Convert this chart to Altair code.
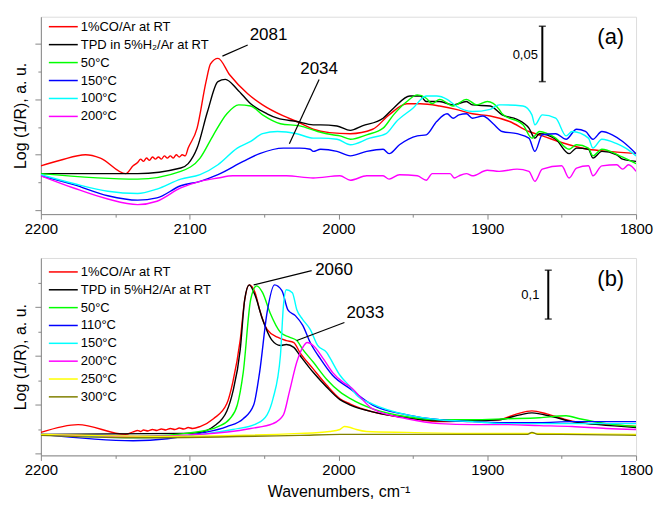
import altair as alt
import pandas as pd

FONT = "Liberation Sans"

# ---------------- Panel (a) ----------------
a_names = ["1%CO/Ar at RT", "TPD in 5%H\u2082/Ar at RT", "50\u00b0C", "150\u00b0C", "100\u00b0C", "200\u00b0C"]
a_colors = ["#ff0000", "#000000", "#00ff00", "#0000ff", "#00ffff", "#ff00ff"]

a_red_w = [2200, 2187, 2170, 2160, 2143, 2138, 2135, 2133, 2131, 2129, 2127, 2125, 2123, 2121, 2119,
           2117, 2115, 2113, 2111, 2109, 2107, 2105, 2103, 2101, 2095, 2089, 2086, 2081, 2073, 2061,
           2051, 2037, 2028, 2017, 2006, 1992, 1977, 1966, 1954, 1945, 1932, 1921, 1910, 1898, 1885,
           1872, 1863, 1845, 1832, 1818, 1800]
a_red_v = [0.040, 0.045, 0.050, 0.047, 0.033, 0.040, 0.043, 0.046, 0.044, 0.047, 0.045, 0.048, 0.046, 0.048, 0.046,
           0.049, 0.047, 0.049, 0.047, 0.050, 0.048, 0.050, 0.049, 0.056, 0.074, 0.116, 0.132, 0.137, 0.122, 0.105,
           0.095, 0.085, 0.080, 0.073, 0.070, 0.069, 0.073, 0.086, 0.096, 0.096, 0.094, 0.091, 0.087, 0.085, 0.080,
           0.071, 0.067, 0.059, 0.055, 0.053, 0.051]

a_blk_w = [2200, 2135, 2106, 2101, 2095, 2088, 2081, 2076, 2068, 2059, 2048, 2041, 2028, 2017, 2012,
           2001, 1992, 1984, 1970, 1963, 1952, 1945, 1941, 1932, 1923, 1914, 1910, 1898, 1890, 1880,
           1872, 1868, 1865, 1854, 1845, 1840, 1832, 1829, 1823, 1813, 1809, 1800]
a_blk_v = [0.033, 0.033, 0.038, 0.042, 0.056, 0.089, 0.116, 0.118, 0.109, 0.096, 0.087, 0.083, 0.080, 0.077, 0.077,
           0.076, 0.072, 0.076, 0.083, 0.092, 0.103, 0.103, 0.098, 0.098, 0.095, 0.098, 0.095, 0.094, 0.086, 0.082,
           0.074, 0.065, 0.069, 0.064, 0.051, 0.056, 0.055, 0.047, 0.053, 0.050, 0.046, 0.044]

a_grn_w = [2200, 2135, 2106, 2093, 2084, 2075, 2067, 2059, 2051, 2039, 2026, 2014, 2004, 1999, 1992,
           1981, 1970, 1963, 1954, 1947, 1941, 1937, 1932, 1923, 1914, 1907, 1900, 1892, 1890, 1876,
           1870, 1865, 1854, 1845, 1840, 1832, 1829, 1823, 1811, 1800]
a_grn_v = [0.033, 0.028, 0.035, 0.047, 0.068, 0.087, 0.095, 0.094, 0.086, 0.078, 0.076, 0.071, 0.068, 0.067, 0.064,
           0.068, 0.074, 0.086, 0.098, 0.104, 0.101, 0.096, 0.100, 0.094, 0.100, 0.095, 0.098, 0.091, 0.087, 0.077,
           0.065, 0.071, 0.065, 0.055, 0.059, 0.056, 0.049, 0.055, 0.049, 0.042]

a_blu_w = [2200, 2178, 2155, 2135, 2122, 2106, 2093, 2081, 2064, 2053, 2037, 2026, 2019, 2017, 2012,
           2001, 1992, 1981, 1970, 1966, 1959, 1947, 1941, 1934, 1927, 1923, 1919, 1914, 1910, 1903,
           1896, 1890, 1880, 1872, 1868, 1863, 1854, 1847, 1840, 1834, 1829, 1823, 1816, 1809, 1800]
a_blu_v = [0.031, 0.023, 0.013, 0.009, 0.011, 0.022, 0.026, 0.032, 0.044, 0.051, 0.056, 0.056, 0.055, 0.053, 0.055,
           0.053, 0.049, 0.053, 0.055, 0.051, 0.059, 0.067, 0.068, 0.080, 0.087, 0.083, 0.086, 0.087, 0.083, 0.085,
           0.078, 0.071, 0.069, 0.065, 0.053, 0.068, 0.069, 0.064, 0.073, 0.071, 0.064, 0.071, 0.068, 0.062, 0.051]

a_cyn_w = [2200, 2178, 2155, 2135, 2122, 2106, 2093, 2081, 2068, 2059, 2051, 2041, 2028, 2017, 2012,
           2001, 1992, 1979, 1968, 1961, 1950, 1941, 1934, 1927, 1921, 1910, 1898, 1892, 1890, 1876,
           1870, 1868, 1863, 1854, 1847, 1843, 1832, 1829, 1823, 1813, 1807, 1800]
a_cyn_v = [0.032, 0.024, 0.017, 0.015, 0.019, 0.028, 0.032, 0.041, 0.056, 0.062, 0.069, 0.071, 0.069, 0.065, 0.065,
           0.064, 0.059, 0.065, 0.069, 0.080, 0.092, 0.103, 0.103, 0.100, 0.094, 0.089, 0.091, 0.095, 0.095, 0.094,
           0.086, 0.077, 0.086, 0.083, 0.067, 0.071, 0.065, 0.056, 0.064, 0.060, 0.056, 0.049]

a_mag_w = [2200, 2178, 2155, 2135, 2122, 2106, 2093, 2081, 2071, 2035, 2017, 1999, 1992, 1981, 1970,
           1966, 1959, 1947, 1941, 1937, 1925, 1922, 1919, 1914, 1910, 1900, 1892, 1880, 1872, 1868,
           1863, 1850, 1845, 1840, 1832, 1829, 1823, 1813, 1809, 1805, 1800]
a_mag_v = [0.031, 0.020, 0.010, 0.005, 0.008, 0.020, 0.026, 0.029, 0.031, 0.031, 0.029, 0.031, 0.027, 0.031, 0.031,
           0.028, 0.032, 0.031, 0.027, 0.033, 0.033, 0.029, 0.031, 0.033, 0.031, 0.036, 0.035, 0.037, 0.035, 0.026,
           0.037, 0.040, 0.029, 0.038, 0.040, 0.031, 0.040, 0.041, 0.037, 0.041, 0.035]

a_series = [(a_red_w, a_red_v), (a_blk_w, a_blk_v), (a_grn_w, a_grn_v),
            (a_blu_w, a_blu_v), (a_cyn_w, a_cyn_v), (a_mag_w, a_mag_v)]

# ---------------- Panel (b) ----------------
b_names = ["1%CO/Ar at RT", "TPD in 5%H2/Ar at RT", "50\u00b0C", "110\u00b0C", "150\u00b0C",
           "200\u00b0C", "250\u00b0C", "300\u00b0C"]
b_colors = ["#ff0000", "#000000", "#00ff00", "#0000ff", "#00ffff", "#ff00ff", "#ffff00", "#808000"]

b_red_w = [2200, 2175, 2143, 2138, 2135, 2133, 2131, 2128, 2125, 2122, 2119, 2116, 2113, 2110, 2107,
           2104, 2101, 2098, 2093, 2084, 2075, 2071, 2066, 2063, 2060, 2056, 2053, 2048, 2041, 2035,
           2030, 2026, 2017, 2008, 1999, 1992, 1977, 1954, 1932, 1910, 1892, 1880, 1870, 1860, 1847,
           1832, 1816, 1800]
b_red_v = [0.043, 0.059, 0.039, 0.044, 0.047, 0.045, 0.048, 0.046, 0.049, 0.047, 0.050, 0.048, 0.051, 0.049, 0.052,
           0.050, 0.053, 0.051, 0.055, 0.071, 0.102, 0.146, 0.233, 0.315, 0.345, 0.329, 0.294, 0.254, 0.238, 0.231,
           0.227, 0.207, 0.173, 0.140, 0.112, 0.101, 0.085, 0.073, 0.065, 0.067, 0.069, 0.081, 0.087, 0.081, 0.069,
           0.061, 0.059, 0.055]

b_blk_w = [2200, 2104, 2093, 2084, 2075, 2071, 2066, 2063, 2060, 2056, 2051, 2045, 2039, 2035, 2030,
           2026, 2017, 2008, 1999, 1992, 1977, 1954, 1932, 1910, 1892, 1878, 1870, 1856, 1843, 1825, 1800]
b_blk_v = [0.039, 0.041, 0.043, 0.055, 0.087, 0.126, 0.213, 0.315, 0.345, 0.323, 0.274, 0.233, 0.221, 0.223, 0.217,
           0.201, 0.166, 0.136, 0.110, 0.099, 0.085, 0.073, 0.067, 0.067, 0.069, 0.079, 0.083, 0.075, 0.065, 0.059, 0.053]

b_grn_w = [2200, 2135, 2093, 2081, 2073, 2068, 2064, 2059, 2055, 2051, 2046, 2039, 2033, 2028, 2024,
           2017, 2008, 1999, 1992, 1977, 1954, 1932, 1910, 1887, 1865, 1847, 1838, 1820, 1800]
b_grn_v = [0.039, 0.035, 0.045, 0.055, 0.071, 0.099, 0.166, 0.315, 0.343, 0.329, 0.288, 0.248, 0.238, 0.231, 0.213,
           0.187, 0.152, 0.126, 0.112, 0.091, 0.075, 0.069, 0.069, 0.071, 0.073, 0.077, 0.071, 0.061, 0.055]

b_blu_w = [2200, 2138, 2115, 2093, 2075, 2064, 2057, 2053, 2048, 2043, 2038, 2034, 2029, 2024, 2019,
           2012, 2004, 1992, 1977, 1954, 1932, 1910, 1887, 1865, 1843, 1820, 1800]
b_blu_v = [0.039, 0.026, 0.030, 0.041, 0.055, 0.071, 0.099, 0.166, 0.288, 0.345, 0.333, 0.294, 0.282, 0.262, 0.227,
           0.193, 0.160, 0.132, 0.099, 0.079, 0.069, 0.065, 0.063, 0.063, 0.065, 0.065, 0.065]

b_cyn_w = [2200, 2135, 2093, 2071, 2055, 2048, 2044, 2039, 2037, 2035, 2031, 2028, 2024, 2019, 2014,
           2008, 2006, 1999, 1992, 1988, 1977, 1954, 1932, 1910, 1887, 1865, 1820, 1800]
b_cyn_v = [0.039, 0.032, 0.039, 0.049, 0.061, 0.079, 0.112, 0.201, 0.302, 0.335, 0.329, 0.294, 0.274, 0.254, 0.221,
           0.207, 0.197, 0.160, 0.136, 0.120, 0.101, 0.079, 0.069, 0.065, 0.061, 0.061, 0.061, 0.061]

b_mag_w = [2200, 2135, 2093, 2059, 2044, 2037, 2033, 2028, 2024, 2021, 2017, 2010, 2004, 1997, 1992,
           1977, 1954, 1932, 1910, 1887, 1865, 1843, 1820, 1800]
b_mag_v = [0.039, 0.035, 0.039, 0.051, 0.061, 0.079, 0.126, 0.187, 0.217, 0.227, 0.221, 0.193, 0.166, 0.146, 0.136,
           0.091, 0.071, 0.061, 0.059, 0.059, 0.057, 0.055, 0.051, 0.049]

b_yel_w = [2200, 2115, 2026, 2006, 1999, 1996, 1992, 1988, 1981, 1954, 1910, 1870, 1800]
b_yel_v = [0.039, 0.035, 0.041, 0.045, 0.049, 0.055, 0.053, 0.049, 0.045, 0.043, 0.041, 0.041, 0.039]

b_olv_w = [2200, 2138, 2026, 1999, 1954, 1873, 1870, 1866, 1850, 1800]
b_olv_v = [0.037, 0.032, 0.037, 0.039, 0.039, 0.039, 0.043, 0.039, 0.039, 0.037]

b_series = [(b_red_w, b_red_v), (b_blk_w, b_blk_v), (b_grn_w, b_grn_v), (b_blu_w, b_blu_v),
            (b_cyn_w, b_cyn_v), (b_mag_w, b_mag_v), (b_yel_w, b_yel_v), (b_olv_w, b_olv_v)]

# annotations: peak labels, leader lines, panel letters, scale bars
a_peak_text = ["2081", "2034"]
a_peak_tw = [2047, 2013]
a_peak_tv = [0.158, 0.127]
a_lead_w1 = [2078, 2033]
a_lead_v1 = [0.139, 0.060]
a_lead_w2 = [2061, 2013]
a_lead_v2 = [0.149, 0.118]

b_peak_text = ["2060", "2033"]
b_peak_tw = [2003, 1982]
b_peak_tv = [0.376, 0.288]
b_lead_w1 = [2057, 2028]
b_lead_v1 = [0.345, 0.231]
b_lead_w2 = [2018, 1996]
b_lead_v2 = [0.374, 0.268]

a_letter = ("(a)", 1817, 0.156)
b_letter = ("(b)", 1817, 0.357)

a_bar = (1863, 0.116, 0.166, "0,05", 1866, 0.140)
b_bar = (1859, 0.275, 0.375, "0,1", 1865, 0.325)

x_ticks = [2200, 2150, 2100, 2050, 2000, 1950, 1900, 1850, 1800]
a_yticks = [0.0, 0.025, 0.05, 0.075, 0.10, 0.125, 0.15]
b_yticks = [0.0, 0.05, 0.10, 0.15, 0.20, 0.25, 0.30, 0.35]

A_YDOM = [-0.0036, 0.1746]
B_YDOM = [-0.004, 0.400]
X_DOM = [1800, 2200]

W, H = 597, 198

# legend layout (pixels inside the plot area)
LEG_SYM_X0, LEG_SYM_X1, LEG_TXT_X = 8, 37, 40
A_LEG_TOP, A_LEG_STEP = 10, 18
B_LEG_TOP, B_LEG_STEP = 14, 17.9


def px_to_w(px):
    return X_DOM[1] - px * (X_DOM[1] - X_DOM[0]) / W


def py_to_v(py, ydom):
    return ydom[1] - py * (ydom[1] - ydom[0]) / H


def panel(series, names, colors, ydomain, yticks, major_mult, ptext, ptw, ptv,
          lw1, lv1, lw2, lv2, letter, bar, show_xtitle, legend_name, leg_top, leg_step):
    frames = []
    for i, ((ws, vs), nm) in enumerate(zip(series, names)):
        assert len(ws) == len(vs), nm
        frames.append(pd.DataFrame({"w": ws, "v": vs, legend_name: nm, "k": i}))
    df = pd.concat(frames, ignore_index=True)

    xaxis = alt.Axis(values=x_ticks, format="d", labelFlush=False, labelOverlap=False,
                     labelExpr="datum.value % 100 === 0 ? datum.label : ''",
                     tickSize={"condition": {"test": "datum.value % 100 === 0", "value": 5}, "value": 3},
                     labelFontSize=15, labelPadding=2, grid=False,
                     title="Wavenumbers, cm\u207b\u00b9" if show_xtitle else None,
                     titleFontSize=16, titleFontWeight="normal", titlePadding=6)
    test = f"abs(datum.value*{major_mult} - round(datum.value*{major_mult})) < 0.001"
    yaxis = alt.Axis(values=yticks, labels=False, grid=False,
                     tickSize={"condition": {"test": test, "value": 6}, "value": 3},
                     title="Log (1/R), a. u.", titleFontSize=16, titleFontWeight="normal",
                     titlePadding=6)
    xsc = alt.Scale(domain=X_DOM, reverse=True, nice=False, zero=False)
    ysc = alt.Scale(domain=ydomain, nice=False, zero=False)
    xenc = alt.X("w:Q", scale=xsc, axis=xaxis)
    yenc = alt.Y("v:Q", scale=ysc, axis=yaxis)
    cenc = alt.Color(f"{legend_name}:N", scale=alt.Scale(domain=names, range=colors), legend=None)

    lines = alt.Chart(df).mark_line(strokeWidth=1.4, clip=True, interpolate="monotone").encode(
        x=xenc, y=yenc, color=cenc, order="k:Q",
    )

    # legend drawn inside the plot
    legdf = pd.DataFrame({
        legend_name: names,
        "w": [px_to_w(LEG_SYM_X0)] * len(names),
        "w2": [px_to_w(LEG_SYM_X1)] * len(names),
        "wt": [px_to_w(LEG_TXT_X)] * len(names),
        "v": [py_to_v(leg_top + leg_step * i, ydomain) for i in range(len(names))],
    })
    leg_sym = alt.Chart(legdf).mark_rule(strokeWidth=1.5).encode(
        x=xenc, x2="w2:Q", y=yenc, color=cenc)
    leg_txt = alt.Chart(legdf).mark_text(font=FONT, fontSize=13, align="left", baseline="middle",
                                         color="black").encode(
        x=alt.X("wt:Q", scale=xsc, axis=xaxis), y=yenc, text=f"{legend_name}:N")

    tdf = pd.DataFrame({"w": ptw, "v": ptv, "t": ptext})
    texts = alt.Chart(tdf).mark_text(font=FONT, fontSize=17, align="center", baseline="middle",
                                     color="black").encode(x=xenc, y=yenc, text="t:N")
    ldf = pd.DataFrame({"w": lw1, "v": lv1, "w2": lw2, "v2": lv2})
    leads = alt.Chart(ldf).mark_rule(color="black", strokeWidth=1.2).encode(
        x=xenc, y=yenc, x2="w2:Q", y2="v2:Q")

    letdf = pd.DataFrame({"w": [letter[1]], "v": [letter[2]], "t": [letter[0]]})
    let = alt.Chart(letdf).mark_text(font=FONT, fontSize=22, align="center", baseline="middle",
                                     color="black").encode(x=xenc, y=yenc, text="t:N")

    bdf = pd.DataFrame({"w": [bar[0]], "v": [bar[1]], "v2": [bar[2]]})
    bline = alt.Chart(bdf).mark_rule(color="black", strokeWidth=2).encode(x=xenc, y=yenc, y2="v2:Q")
    cdf = pd.DataFrame({"w": [bar[0], bar[0]], "v": [bar[1], bar[2]]})
    caps = alt.Chart(cdf).mark_tick(orient="horizontal", size=7, thickness=1.5, color="black").encode(
        x=xenc, y=yenc)
    bldf = pd.DataFrame({"w": [bar[4]], "v": [bar[5]], "t": [bar[3]]})
    blab = alt.Chart(bldf).mark_text(font=FONT, fontSize=13, align="right", baseline="middle",
                                     color="black").encode(x=xenc, y=yenc, text="t:N")

    return alt.layer(lines, leg_sym, leg_txt, leads, texts, let, bline, caps, blab).properties(
        width=W, height=H)


pa = panel(a_series, a_names, a_colors, A_YDOM, a_yticks, 20,
           a_peak_text, a_peak_tw, a_peak_tv, a_lead_w1, a_lead_v1, a_lead_w2, a_lead_v2,
           a_letter, a_bar, False, "series_a", A_LEG_TOP, A_LEG_STEP)
pb = panel(b_series, b_names, b_colors, B_YDOM, b_yticks, 10,
           b_peak_text, b_peak_tw, b_peak_tv, b_lead_w1, b_lead_v1, b_lead_w2, b_lead_v2,
           b_letter, b_bar, True, "series_b", B_LEG_TOP, B_LEG_STEP)

chart = alt.vconcat(pa, pb, spacing=20).resolve_scale(color="independent").properties(
    padding={"left": 12, "top": 15, "right": 2, "bottom": 4}
).configure_view(
    stroke="black", strokeWidth=1
).configure_axis(
    labelFont=FONT, titleFont=FONT, domainColor="black", tickColor="black",
    labelColor="black", titleColor="black", domainWidth=1, tickWidth=1
).configure(background="white")

chart.save("out.html", embed_options={"renderer": "svg", "actions": False})
